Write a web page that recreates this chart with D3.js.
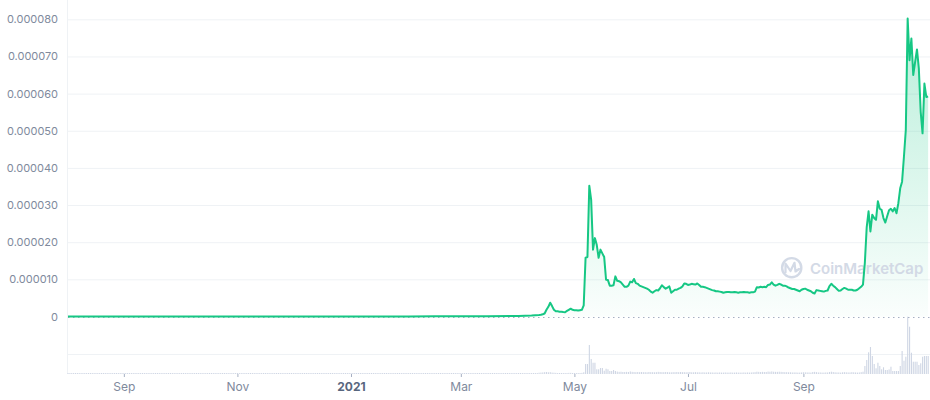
<!DOCTYPE html>
<html><head><meta charset="utf-8">
<script src="https://cdn.jsdelivr.net/npm/d3@7"></script>
<style>
html,body{margin:0;padding:0;background:#fff;}
svg{display:block;font-family:Inter,"Noto Sans",sans-serif;}
</style></head><body>
<svg id="chart" width="930" height="400"></svg>
<script>
// ---------- data ----------
// price in millionths of USD (1 = 0.000001)
const yTickValues = [0, 10, 20, 30, 40, 50, 60, 70, 80];
const yTickLabels = ["0", "0.000010", "0.000020", "0.000030", "0.000040", "0.000050", "0.000060", "0.000070", "0.000080"];
const xTickDates = ["2020-09-01", "2020-11-01", "2021-01-01", "2021-03-01", "2021-05-01", "2021-07-01", "2021-09-01"];
const xTickLabels = ["Sep", "Nov", "2021", "Mar", "May", "Jul", "Sep"];

const priceEarlyDates = ["2020-08-02", "2020-10-01", "2020-12-01", "2021-01-15", "2021-02-01", "2021-02-15", "2021-03-01", "2021-03-15", "2021-04-01", "2021-04-08"];
const priceEarly = [0, 0, 0, 0.01, 0.02, 0.05, 0.07, 0.1, 0.15, 0.25];

const priceDailyStart = "2021-04-12";
const priceDaily = [
  0.4, 0.45, 0.6, 0.8, 1.8, 2.6, 3.7, 2.8, 1.8, 1.4, 1.4, 1.3, 1.3, 1.2, 1.15, 1.5, 1.8, 2.1, 1.8,
  1.7, 1.7, 1.6, 1.7, 1.8, 3.0, 15.8, 16.0, 35.2, 31.4, 18.0, 21.1, 19.3, 15.8, 18.0, 17.0, 16.0, 9.9,
  9.8, 8.3, 8.3, 8.4, 10.8, 9.6, 9.5, 9.2, 8.6, 8.0, 8.0, 8.3, 9.4,
  9.2, 10.1, 9.0, 8.8, 8.3, 8.1, 7.9, 7.7, 7.5, 7.2, 6.7, 6.4, 6.8, 7.1, 7.0, 7.6, 8.4, 7.9, 7.5, 7.8,
  8.1, 6.4, 6.8, 7.2, 7.2, 7.5, 7.7, 8.1, 8.9, 8.8,
  8.5, 8.6, 8.8, 8.7, 8.6, 8.9, 8.5, 8.0, 8.0, 7.9, 7.7, 7.5, 7.3, 7.1, 7.0, 6.8, 6.8, 6.7, 6.6, 6.4,
  6.5, 6.6, 6.6, 6.5, 6.5, 6.6, 6.5, 6.4, 6.5, 6.5, 6.6,
  6.5, 6.5, 6.4, 6.5, 6.5, 6.7, 7.9, 7.8, 8.0, 7.9, 8.0, 7.9, 8.5, 8.6, 9.2, 8.6, 8.3, 8.5, 8.8, 8.6,
  8.3, 8.3, 8.1, 7.8, 7.6, 7.4, 7.4, 7.2, 7.0, 6.8, 7.2,
  7.4, 7.5, 7.2, 7.0, 6.8, 6.4, 6.2, 7.1, 7.0, 6.9, 6.8, 6.7, 6.9, 7.0, 8.2, 8.8, 8.3, 7.9, 7.4, 6.9,
  7.0, 7.4, 7.7, 7.5, 7.2, 7.2, 7.2, 7.0, 7.0, 7.2,
  7.6, 8.0, 8.6, 14.4, 24.0, 28.3, 22.9, 27.4, 26.5, 26.0, 31.0, 29.0, 28.7, 26.5, 25.3, 27.0, 28.6,
  29.0, 28.3, 29.2, 27.8, 30.5, 34.5, 36.3, 43.0, 50.2, 80.2, 69.0, 74.8, 65.0, 68.5,
  71.9, 66.8, 55.1, 49.3, 62.7, 59.1, 59.2
];

// daily volume, billions of USD
const volumeEarlyStart = "2020-08-02";
const volumeEarly = [
  .02,.01,.01,.02,.01,.01,.01,.02,.02,.01,.01,.01,.02,.01,.01,.01,.01,.02,.01,.01,.01,.01,.01,
  .01,.01,.02,.01,.01,.01,.01,.01,.02,.01,.01,.01,.01,.01,.01,.02,.01,.01,.01,.01,.01,.01,.01,
  .01,.01,.01,.01,.02,.01,.01,.01,.01,.01,.01,.01,.01,.02,.01,.01,.01,.01,.01,.01,.01,.01,.01,
  .01,.01,.01,.01,.01,.01,.02,.01,.01,.01,.01,.01,.01,.01,.01,.01,.01,.02,.01,.01,.01,.01,.01,
  .01,.01,.01,.01,.01,.01,.01,.01,.01,.02,.01,.01,.01,.01,.01,.01,.01,.01,.01,.01,.01,.01,.01,
  .01,.02,.01,.01,.01,.01,.01,.01,.01,.01,.01,.01,.01,.01,.01,.02,.01,.01,.01,.01,.01,.01,.01,
  .01,.01,.01,.01,.01,.02,.01,.01,.01,.01,.01,.01,.01,.01,.01,.01,.02,.01,.01,.01,.01,.01,.01,
  .02,.02,.01,.02,.02,.02,.03,.02,.02,.02,.03,.02,.02,.03,.02,.03,.03,.02,.03,.03,.04,.03,.03,
  .04,.03,.04,.04,.03,.04,.05,.04,.04,.05,.04,.05,.05,.04,.05,.06,.05,.05,.06,.05,.06,.06,.05,
  .06,.07,.06,.06,.07,.06,.07,.08,.07,.07,.08,.08,.09,.08,.09,.10,.09,.10,.11,.10,.12,.11,.12,
  .13,.12,.14,.13,.15,.16,.15,.17,.18,.17,.19,.20,.22,.21,.24,.25,.27,.26,.29,.30,.32,.35,.38
];
const volumeLateStart = "2021-04-12";
const volumeLate = [
  0.9, 1.0, 1.1, 1.3, 1.4, 1.2, 1.3, 1.0, 0.9, 0.8, 0.7, 0.7, 0.7, 0.7, 0.7, 0.7, 0.8, 0.8, 0.7, 0.7,
  0.7, 0.7, 0.7, 0.8, 1.2,
  7.0, 7.0, 20.3, 10.5, 7.9, 7.9, 3.3, 3.3, 4.2, 4.2, 2.3, 3.7, 3.3, 2.1, 2.1, 2.8, 2.1,
  1.7, 1.5, 1.6, 1.4, 1.4, 1.5, 1.4, 1.8, 1.5, 1.4, 1.3, 1.4, 1.3, 1.4, 1.3, 1.3, 1.2, 1.4, 1.3, 1.3,
  1.2, 1.3, 1.5, 1.4, 1.3, 1.3, 1.4, 1.3, 1.2, 1.2, 1.3, 1.3, 1.4, 1.3, 1.4, 1.3, 1.3, 1.2,
  1.3, 1.4, 1.2, 1.2, 1.3, 1.2, 1.2, 1.1, 1.2, 1.1, 1.1, 1.2, 1.1, 1.1, 1.0, 1.1, 1.0, 1.1, 1.0, 1.0,
  1.1, 1.0, 1.0, 1.1, 1.0, 1.0, 1.1, 1.0, 1.0, 1.0, 1.1,
  1.0, 1.1, 1.0, 1.1, 1.2, 1.3, 1.6, 1.5, 1.4, 1.5, 1.4, 1.4, 1.7, 1.6, 1.8, 1.6, 1.5, 1.5, 1.6, 1.5,
  1.4, 1.3, 1.3, 1.2, 1.2, 1.1, 1.1, 1.1, 1.0, 1.0, 1.1,
  1.2, 1.2, 1.1, 1.1, 1.0, 1.4, 1.5, 1.3, 1.1, 1.1, 1.0, 1.0, 1.1, 1.1, 1.4, 1.6, 1.4, 1.2, 1.1, 1.1,
  1.0, 1.2, 1.3, 1.2, 1.1, 1.1, 1.3, 1.2, 1.1, 1.0, 1.1, 1.3, 1.6,
  5.6, 9.8, 15.2, 18.9, 12.6, 7.0, 4.0, 7.9, 5.6, 3.3, 4.7, 2.8, 2.8, 3.2, 5.1, 2.1, 2.1, 2.1, 2.1,
  5.6, 16.1, 9.3, 12.1, 40.1, 33.1, 14.9, 8.6, 8.6, 8.6, 6.3, 7.5, 12.1, 12.6, 12.6, 12.6
];
const volumeGridValues = [14.0];

// ---------- build ----------
const parse = d3.utcParse("%Y-%m-%d");
const prices = priceEarlyDates.map((d, i) => ({ date: parse(d), v: priceEarly[i] }))
  .concat(priceDaily.map((v, i) => ({ date: d3.utcDay.offset(parse(priceDailyStart), i), v })));
const volumes = volumeEarly.map((v, i) => ({ date: d3.utcDay.offset(parse(volumeEarlyStart), i), v }))
  .concat(volumeLate.map((v, i) => ({ date: d3.utcDay.offset(parse(volumeLateStart), i), v })));

const left = 68, right = 930;
const x = d3.scaleUtc().domain([parse("2020-08-02"), parse("2021-11-08")]).range([left, right]);
const y = d3.scaleLinear().domain([0, 80]).range([316.5, 19.3]);
const yVol = d3.scaleLinear().domain([0, 40.1]).range([374, 316.7]);

const svg = d3.select("#chart");
const defs = svg.append("defs");
const grad = defs.append("linearGradient").attr("id", "fillGrad")
  .attr("gradientUnits", "userSpaceOnUse").attr("x1", 0).attr("x2", 0).attr("y1", y(80)).attr("y2", y(0));
grad.append("stop").attr("offset", 0).attr("stop-color", "#16c784").attr("stop-opacity", 0.3);
grad.append("stop").attr("offset", 1).attr("stop-color", "#16c784").attr("stop-opacity", 0.02);

// left border
svg.append("line").attr("x1", left - 0.5).attr("x2", left - 0.5).attr("y1", 0).attr("y2", 374)
  .attr("stroke", "#eff2f5");

// y axis + grid
const yAxis = svg.append("g").attr("transform", `translate(${left},0)`)
  .call(d3.axisLeft(y).tickValues(yTickValues).tickFormat((d, i) => yTickLabels[i])
    .tickSize(-(right - left)).tickPadding(10));
yAxis.select(".domain").remove();
yAxis.selectAll(".tick line").attr("stroke", d => d === 0 ? "none" : "#eff2f5");
yAxis.selectAll(".tick text").attr("fill", "#808a9d").style("font-size", "11px")
  .style("font-family", "Inter, 'Noto Sans', sans-serif");

// volume grid
svg.append("g").selectAll("line").data(volumeGridValues).join("line")
  .attr("x1", left).attr("x2", right)
  .attr("y1", d => Math.round(yVol(d)) + 0.5).attr("y2", d => Math.round(yVol(d)) + 0.5)
  .attr("stroke", "#eff2f5");

// volume bars
svg.append("g").selectAll("rect").data(volumes).join("rect")
  .attr("x", d => x(d.date) - 0.5)
  .attr("width", 1.1)
  .attr("y", d => Math.min(yVol(d.v), yVol(0) - 1))
  .attr("height", d => Math.max(1, yVol(0) - yVol(d.v)))
  .attr("fill", "#cfd6e4");

// area
svg.append("path").datum(prices)
  .attr("d", d3.area().x(d => x(d.date)).y0(y(0)).y1(d => y(d.v)))
  .attr("fill", "url(#fillGrad)");

// watermark
const wm = svg.append("g").attr("opacity", 0.9);
wm.append("circle").attr("cx", 791.7).attr("cy", 267.7).attr("r", 9.6)
  .attr("fill", "none").attr("stroke", "#cfd6e4").attr("stroke-width", 2.4);
wm.append("path").attr("d", "M785.5,272.5 L785.5,263.5 L790.5,271 L794.5,262.8 L795.5,271.5 L799,269")
  .attr("fill", "none").attr("stroke", "#cfd6e4").attr("stroke-width", 2.2)
  .attr("stroke-linejoin", "round").attr("stroke-linecap", "round");
wm.append("text").attr("x", 810).attr("y", 273.5).text("CoinMarketCap")
  .attr("fill", "#cfd6e4").style("font-size", "15px").style("font-weight", 600);

// dotted reference line
svg.append("line").attr("x1", left).attr("x2", right).attr("y1", 317.5).attr("y2", 317.5)
  .attr("stroke", "#a6b0c3").attr("stroke-width", 1).attr("stroke-dasharray", "1.5,3.5");

// price line
svg.append("path").datum(prices)
  .attr("d", d3.line().x(d => x(d.date)).y(d => y(d.v)))
  .attr("fill", "none").attr("stroke", "#16c784").attr("stroke-width", 2)
  .attr("stroke-linejoin", "round");

// x axis
const xAxis = svg.append("g").attr("transform", `translate(0,374)`)
  .call(d3.axisBottom(x).tickValues(xTickDates.map(parse)).tickFormat((d, i) => xTickLabels[i])
    .tickSize(3).tickPadding(5));
xAxis.select(".domain").remove();
xAxis.selectAll(".tick line").attr("stroke", "#a6b0c3");
xAxis.selectAll(".tick text").style("font-size", "12px")
  .style("font-family", "Inter, 'Noto Sans', sans-serif")
  .style("font-weight", (d, i) => xTickLabels[i] === "2021" ? 700 : 400)
  .attr("fill", (d, i) => xTickLabels[i] === "2021" ? "#58667e" : "#808a9d");
</script>
</body></html>
